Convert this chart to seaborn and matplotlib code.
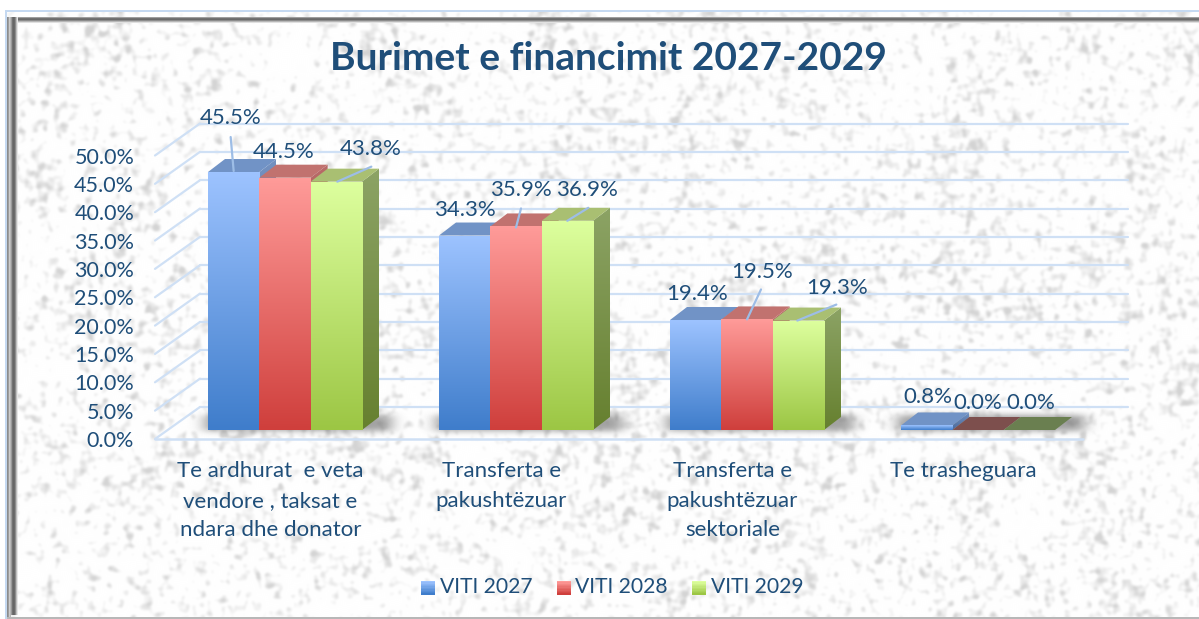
import numpy as np
import pandas as pd
import matplotlib
matplotlib.use("Agg")
import matplotlib.pyplot as plt
from matplotlib.colors import to_rgb
from matplotlib.lines import Line2D
from matplotlib.patches import Polygon, Rectangle
from matplotlib.legend_handler import HandlerBase
import seaborn as sns

categories = ["Te ardhurat  e veta\nvendore , taksat e\nndara dhe donator",
              "Transferta e\npakushtëzuar",
              "Transferta e\npakushtëzuar\nsektoriale",
              "Te trasheguara"]
years = ["VITI 2027", "VITI 2028", "VITI 2029"]
viti_2027 = [45.5, 34.3, 19.4, 0.8]
viti_2028 = [44.5, 35.9, 19.5, 0.0]
viti_2029 = [43.8, 36.9, 19.3, 0.0]
y_ticks = [0, 5, 10, 15, 20, 25, 30, 35, 40, 45, 50]
title = "Burimet e financimit 2027-2029"

W, H = 1199, 619
TEXT = "#1F4E79"
GRID = "#CFE0F5"
# front colours, top to bottom, then side and top faces
front_cols = {"VITI 2027": ("#9DC3FF", "#3F7DCB"), "VITI 2028": ("#FF9B99", "#CF3F3C"), "VITI 2029": ("#DDFF9E", "#9CC644")}
side_cols = {"VITI 2027": ("#7391C0", "#4A6A9C"), "VITI 2028": ("#B96B69", "#8E3532"), "VITI 2029": ("#8CA365", "#66802F")}
top_cols = {"VITI 2027": "#7193C6", "VITI 2028": "#C1726F", "VITI 2029": "#A9BF72"}
zero_cols = {"VITI 2028": "#7D4F4D", "VITI 2029": "#6A7F50"}
# label offset from the top centre of each bar (px), and leader line ends
label_off = [[(-3, -54), (-1, -26), (34, -33)],
             [(0, -26), (5, -36), (20, -31)],
             [(1, -26), (15, -47), (39, -33)],
             [(1, -28), (0, -27), (1, -27)]]
leader_off = [[(0, -1, -3, -35), None, (1, 0, 35, -15)],
              [None, (0, 1, 5, -18), (0, 0, 21, -13)],
              [None, (0, 0, 14, -30), (-1, 0, 38, -16)],
              [None, None, None]]

sns.set_theme(style="white")
plt.rcParams["font.family"] = ["Lato", "DejaVu Sans"]


def axes_px(left, top, width, height, **kw):
    return fig.add_axes([left / W, 1 - (top + height) / H, width / W, height / H], **kw)


def blur(a, sx, sy):
    fy = np.fft.fftfreq(a.shape[0])[:, None]
    fx = np.fft.rfftfreq(a.shape[1])[None, :]
    g = np.exp(-2 * np.pi**2 * ((fx * sx)**2 + (fy * sy)**2))
    return np.fft.irfft2(np.fft.rfft2(a) * g, s=a.shape)


def make_background():
    rng = np.random.default_rng(7)
    n1 = blur(rng.normal(size=(H, W)), 1.8, 2.6)
    n2 = blur(rng.normal(size=(H, W)), 3.0, 1.6)
    n3 = blur(rng.normal(size=(H, W)), 16, 16)
    n = n1 / n1.std() + 0.7 * n2 / n2.std() + 0.35 * n3 / n3.std()
    shade = blur(np.clip((n - 0.3) / 3.0, 0, 1), 1.0, 1.0)
    img = 1 - 0.17 * shade
    img = np.dstack([img, img, img])
    # bevelled frame of the picture
    img[:10, :] = 1
    img[:, :5] = 1
    img[10:12, 5:] = to_rgb("#C5D9F1")
    img[10:, 5:7] = to_rgb("#C5D9F1")
    for i, v in enumerate([.62, .45, .42, .55, .72, .88]):
        img[17 + i, 13 + i:] = v
    for i, v in enumerate([.55, .62, .8, .72]):
        img[17:617, 7 + i] = v
    for i, v in enumerate([.6, .45, .4, .42, .55, .75, .9]):
        img[17:615, 11 + i] = v
    img[617:, 7:] = .72
    return img


def gradient(ax, xy, c_top, c_bot, z, clip=None):
    c = np.linspace(to_rgb(c_top), to_rgb(c_bot), 128)[:, None, :]
    xs = [p[0] for p in xy]
    ys = [p[1] for p in xy]
    im = ax.imshow(c, extent=(min(xs), max(xs), min(ys), max(ys)), origin="upper",
                   aspect="auto", zorder=z, interpolation="bilinear")
    if clip is None:
        clip = Polygon(xy, closed=True, transform=ax.transData, fc="none", ec="none")
    im.set_clip_path(clip)


class GradHandler(HandlerBase):
    def create_artists(self, legend, orig, x0, y0, width, height, fontsize, trans):
        c1, c2 = front_cols[orig.get_label()]
        cols = np.linspace(to_rgb(c2), to_rgb(c1), 10)
        return [Rectangle((x0, y0 - 1 + i), width, 1.1, fc=c, ec="none", transform=trans)
                for i, c in enumerate(cols)]


df = pd.DataFrame({"cat": categories * 3,
                   "year": np.repeat(years, 4),
                   "val": viti_2027 + viti_2028 + viti_2029})

fig = plt.figure(figsize=(W / 100, H / 100), dpi=100)

bg = axes_px(0, 0, W, H, zorder=0)
bg.imshow(make_background(), extent=(0, W, H, 0), aspect="auto", interpolation="nearest")
bg.axis("off")

# back wall, floor edge and bars live on three axes that share one y scale
PITCH = 231
YH = 283.5
wall = axes_px(200, 407 - YH, 928, YH, zorder=1, facecolor="none")
front = axes_px(155, 439 - YH, 928, YH, zorder=2, facecolor="none")
ax = axes_px(169.5, 430 - YH, 4 * PITCH, YH, zorder=4, facecolor="none")

for a in (wall, front):
    a.set_xlim(-0.5, -0.5 + 928 / PITCH)
    a.set_ylim(0, 50)
    sns.despine(ax=a, left=True, bottom=True, right=True, top=True)

wall.set_yticks(y_ticks)
wall.set_xticks([])
wall.set_yticklabels([])
wall.tick_params(length=0)
wall.grid(axis="y", color=GRID, lw=1.6)
for gl in wall.get_ygridlines():
    gl.set_clip_on(False)

front.set_yticks(y_ticks)
front.set_yticklabels([f"{t:.1f}%" for t in y_ticks], color=TEXT, fontsize=15.5)
front.set_xticks(range(4))
front.set_xticklabels(categories, color=TEXT, fontsize=16, linespacing=1.6, va="top")
front.tick_params(axis="y", length=0, pad=15)
front.tick_params(axis="x", length=0, pad=16)
front.axhline(0, color=GRID, lw=1.8, clip_on=False)

# left side diagonals of the floor and wall
for t in y_ticks:
    p0 = front.transData.transform((-0.5, t))
    p1 = wall.transData.transform((-0.5, t))
    fig.add_artist(Line2D([p0[0], p1[0]], [p0[1], p1[1]], color=GRID, lw=1.6, transform=None, zorder=1))

sns.barplot(data=df, x="cat", y="val", hue="year", hue_order=years, order=categories,
            palette=[front_cols[y][1] for y in years], width=2 / 3, gap=0, saturation=1,
            legend=False, linewidth=0, ax=ax)
ax.set_xlim(-0.5, 3.5)
ax.set_ylim(0, 50)
ax.set_xlabel("")
ax.set_ylabel("")
ax.set_xticks([])
ax.set_yticks([])
ax.grid(False)
sns.despine(ax=ax, left=True, bottom=True)

DX = 17 / PITCH
DY = 13 / (YH / 50)
bars = sorted(zip(ax.patches, [y for y in years for _ in range(4)], [i for _ in years for i in range(4)]),
              key=lambda b: b[0].get_x())

# soft floor shadow under each group of bars
sh = np.zeros((H, W))
sx = ax.transData
for g in range(4):
    grp = [b[0] for b in bars if b[2] == g]
    x0 = sx.transform((grp[0].get_x(), 0))[0]
    x1 = sx.transform((grp[-1].get_x() + grp[-1].get_width(), 0))[0]
    y0 = H - sx.transform((0, 0))[1]
    sh[int(y0) - 15:int(y0) + 1, int(x0) - 4:int(x1) + 30] = 1
sh = np.clip(blur(sh, 7, 3), 0, 1)
shadow = np.zeros((H, W, 4))
shadow[..., :3] = 0.3
shadow[..., 3] = sh * 0.52
sh_ax = axes_px(0, 0, W, H, zorder=3, facecolor="none")
sh_ax.imshow(shadow, extent=(0, W, H, 0), aspect="auto")
sh_ax.axis("off")

z = 5
for patch, year, g in bars:
    x = patch.get_x()
    w = patch.get_width()
    v = patch.get_height()
    side = [(x + w, 0), (x + w + DX, DY), (x + w + DX, v + DY), (x + w, v)]
    top = [(x, v), (x + DX, v + DY), (x + w + DX, v + DY), (x + w, v)]
    if v > 0:
        gradient(ax, side, side_cols[year][0], side_cols[year][1], z)
    else:
        ax.add_patch(Polygon(side, closed=True, fc=zero_cols[year], ec="none", zorder=z))
    tc = top_cols[year] if v > 0 else zero_cols[year]
    ax.add_patch(Polygon(top, closed=True, fc=tc, ec="none", zorder=z + 1))
    patch.set_zorder(z + 2)
    if v > 0:
        gradient(ax, [(x, 0), (x + w, v)], front_cols[year][0], front_cols[year][1], z + 3, clip=patch)
    z += 4
ax.set_xlim(-0.5, 3.5)
ax.set_ylim(0, 50)

# data labels with leader lines
for patch, year, g in bars:
    h = years.index(year)
    cx = patch.get_x() + patch.get_width() / 2
    v = patch.get_height()
    dx, dy = label_off[g][h]
    ax.annotate(f"{v:.1f}%", (cx, v), xytext=(dx, -dy), textcoords="offset pixels",
                ha="center", va="center", color=TEXT, fontsize=16, zorder=200, annotation_clip=False)
    lead = leader_off[g][h]
    if lead:
        bx, by = ax.transData.transform((cx, v))
        fig.add_artist(Line2D([bx + lead[0], bx + lead[2]], [by - lead[1], by - lead[3]],
                              color="#9DBDE6", lw=1.6, transform=None, zorder=10))

fig.text(608 / W, 1 - 58 / H, title, color=TEXT, fontsize=28, fontweight="bold", ha="center", va="center")

handles = [Rectangle((0, 0), 1, 1, label=y) for y in years]
leg = fig.legend(handles=handles, labels=years, loc="center", bbox_to_anchor=(612.5 / W, 1 - 587 / H), ncol=3,
                 frameon=False, fontsize=15.2, handler_map={Rectangle: GradHandler()},
                 handlelength=0.66, handleheight=0.66, handletextpad=0.22, columnspacing=1.15, labelcolor=TEXT)
leg.set_zorder(300)

fig.savefig("out.png", dpi=100)
